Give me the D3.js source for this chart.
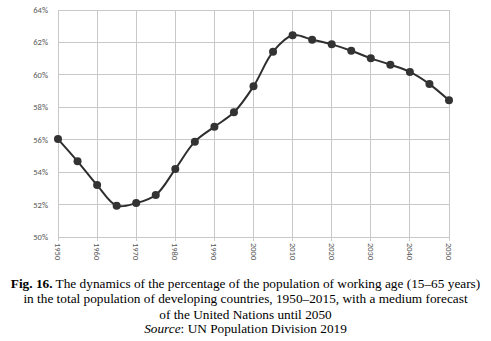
<!DOCTYPE html>
<html><head><meta charset="utf-8">
<script src="https://cdn.jsdelivr.net/npm/d3@7"></script>
<style>
body{margin:0;background:#fff;}
svg{display:block;}
</style></head>
<body>
<svg id="c" width="491" height="341"></svg>
<script>
const years = [1950,1955,1960,1965,1970,1975,1980,1985,1990,1995,2000,2005,2010,2015,2020,2025,2030,2035,2040,2045,2050];
const shares = [56.04,54.67,53.2,51.93,52.09,52.59,54.19,55.88,56.8,57.69,59.29,61.43,62.44,62.17,61.88,61.49,61.02,60.63,60.18,59.43,58.43];
const yTicks = [50,52,54,56,58,60,62,64];
const xTicks = [1950,1960,1970,1980,1990,2000,2010,2020,2030,2040,2050];
const captionLines = [
  [{t:"Fig. 16.",b:true},{t:" The dynamics of the percentage of the population of working age (15\u201365 years)"}],
  [{t:"in the total population of developing countries, 1950\u20132015, with a medium forecast"}],
  [{t:"of the United Nations until 2050"}]
];

const svg = d3.select("#c");
const x = d3.scaleLinear().domain([1950,2050]).range([58,449]);
const y = d3.scaleLinear().domain([50,64]).range([237,10]);

// grid
svg.append("g").selectAll("line").data(yTicks).join("line")
  .attr("x1",58).attr("x2",449).attr("y1",d=>y(d)).attr("y2",d=>y(d))
  .attr("stroke","#c8c8c8").attr("stroke-width",1).attr("shape-rendering","crispEdges");
svg.append("g").selectAll("line").data(xTicks).join("line")
  .attr("x1",d=>x(d)).attr("x2",d=>x(d)).attr("y1",10).attr("y2",241)
  .attr("stroke","#c8c8c8").attr("stroke-width",1).attr("shape-rendering","crispEdges");

// y labels
svg.append("g").selectAll("text").data(yTicks).join("text")
  .attr("x",48).attr("y",d=>y(d)).attr("dy","0.35em").attr("text-anchor","end")
  .attr("font-family","Carlito, 'Liberation Sans', sans-serif").attr("font-size",8.5)
  .attr("fill","#595959").text(d=>d+"%");
// x labels
svg.append("g").selectAll("text").data(xTicks).join("text")
  .attr("transform",d=>`translate(${x(d)},243) rotate(90)`)
  .attr("dy","0.35em").attr("text-anchor","start")
  .attr("font-family","Carlito, 'Liberation Sans', sans-serif").attr("font-size",8.5)
  .attr("fill","#595959").text(d=>d);

// line
const line = d3.line().x((d,i)=>x(years[i])).y(d=>y(d)).curve(d3.curveCatmullRom.alpha(0.5));
svg.append("path").datum(shares).attr("d",line)
  .attr("fill","none").attr("stroke","#2e2e2e").attr("stroke-width",2);
svg.append("g").selectAll("circle").data(shares).join("circle")
  .attr("cx",(d,i)=>x(years[i])).attr("cy",d=>y(d)).attr("r",4)
  .attr("fill","#333");

// caption
const cap = svg.append("g").attr("font-family","'Liberation Serif', 'Times New Roman', serif").attr("font-size",13.3).attr("fill","#000");
captionLines.forEach((ln,i)=>{
  const t = cap.append("text").attr("x",245.5).attr("y",287.5+i*15.5).attr("text-anchor","middle");
  ln.forEach(s=>t.append("tspan").attr("font-weight",s.b?"bold":"normal").text(s.t));
});
const src = cap.append("text").attr("x",245.5).attr("y",333).attr("text-anchor","middle");
src.append("tspan").attr("font-style","italic").text("Source");
src.append("tspan").text(": UN Population Division 2019");
</script>
</body></html>
